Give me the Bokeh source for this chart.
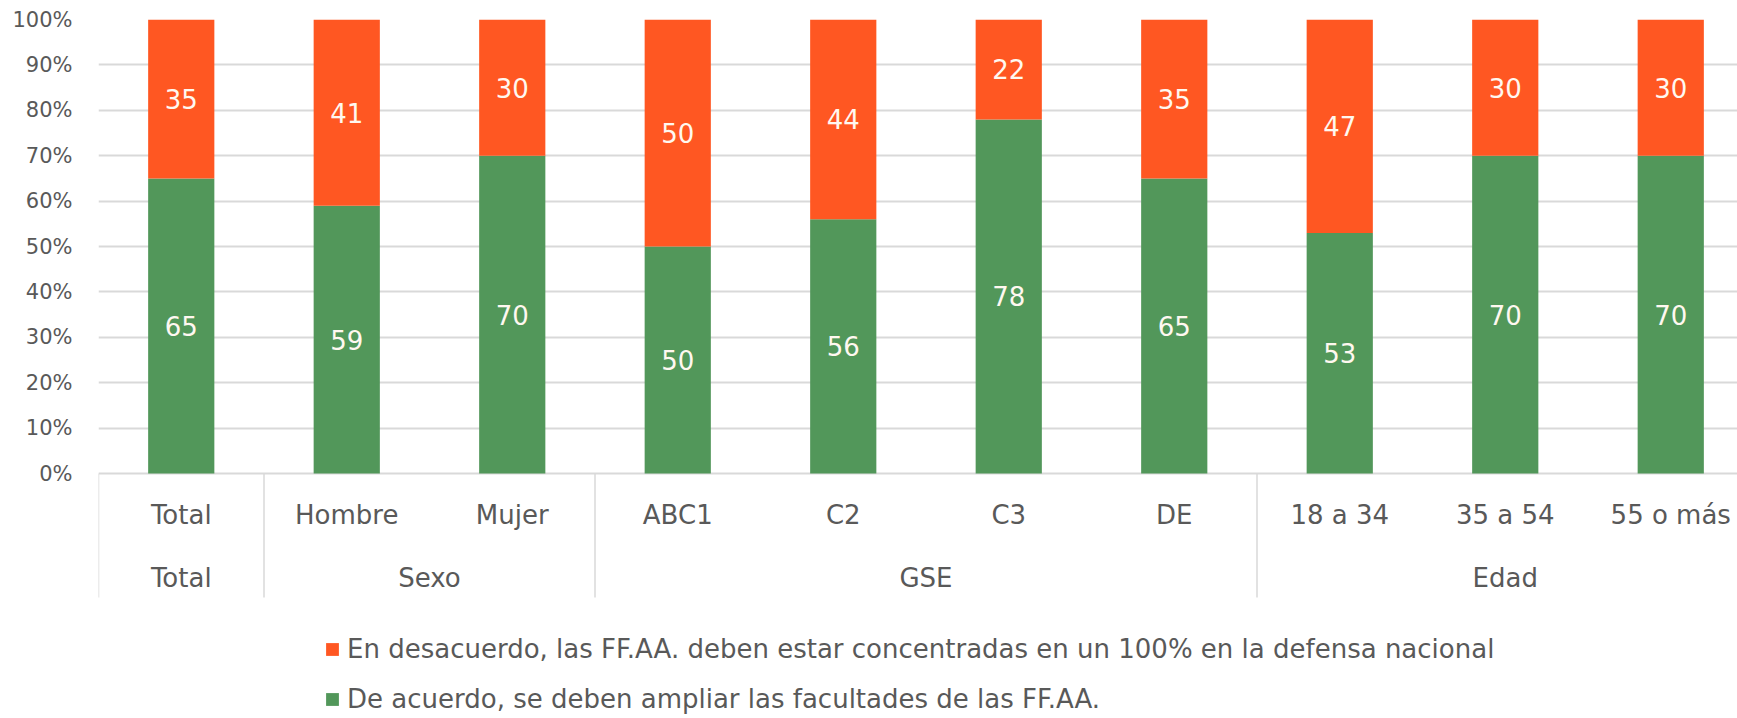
from bokeh.plotting import figure
from bokeh.models import ColumnDataSource, Legend, LegendItem, Range1d
from bokeh.core.properties import value
from bokeh.embed import file_html
from bokeh.resources import INLINE

# ---- data ----
categories = ["Total", "Hombre", "Mujer", "ABC1", "C2", "C3", "DE", "18 a 34", "35 a 54", "55 o más"]
groups = ["Total", "Sexo", "GSE", "Edad"]
group_sizes = [1, 2, 4, 3]
de_acuerdo = [65, 59, 70, 50, 56, 78, 65, 53, 70, 70]
en_desacuerdo = [35, 41, 30, 50, 44, 22, 35, 47, 30, 30]
y_ticks = [0, 10, 20, 30, 40, 50, 60, 70, 80, 90, 100]
y_tick_labels = ["0%", "10%", "20%", "30%", "40%", "50%", "60%", "70%", "80%", "90%", "100%"]
series_names = [
    "En desacuerdo, las FF.AA. deben estar concentradas en un 100% en la defensa nacional",
    "De acuerdo, se deben ampliar las facultades de las FF.AA.",
]

# ---- style ----
FONT = "DejaVu Sans"
ORANGE = "#FF5722"
GREEN = "#52975A"
TEXT = "#595959"
GRID = "#D9D9D9"

W, H = 1737, 718
LEFT, TOP = 98, 19
PX_PER_UNIT = 4.54
CAT_W = 165.5

frame_w = W - LEFT
frame_h = H - TOP
x_end = frame_w / CAT_W
y_start = 100 - frame_h / PX_PER_UNIT

p = figure(width=W, height=H, output_backend="svg", toolbar_location=None,
           x_range=Range1d(0, x_end), y_range=Range1d(y_start, 100),
           x_axis_location=None, min_border_left=LEFT, min_border_right=0,
           min_border_top=TOP, min_border_bottom=0)
p.outline_line_color = None
p.background_fill_color = "white"
p.border_fill_color = "white"

# y axis
p.yaxis.ticker = y_ticks
p.yaxis.major_label_overrides = {t: l for t, l in zip(y_ticks, y_tick_labels)}
p.yaxis.axis_line_color = None
p.yaxis.major_tick_line_color = None
p.yaxis.minor_tick_line_color = None
p.yaxis.major_tick_out = 0
p.yaxis.major_tick_in = 0
p.yaxis.major_label_standoff = 26
p.yaxis.major_label_text_font = FONT
p.yaxis.major_label_text_font_size = "21px"
p.yaxis.major_label_text_color = TEXT
p.xgrid.grid_line_color = None
p.ygrid.grid_line_color = GRID
p.ygrid.grid_line_width = 2

xs = [i + 0.5 for i in range(len(categories))]
src = ColumnDataSource(dict(
    x=xs, cat=categories, green=de_acuerdo, orange=en_desacuerdo,
    green_mid=[g / 2 for g in de_acuerdo],
    orange_mid=[g + o / 2 for g, o in zip(de_acuerdo, en_desacuerdo)],
    green_lbl=[str(v) for v in de_acuerdo],
    orange_lbl=[str(v) for v in en_desacuerdo],
))

r_green, r_orange = p.vbar_stack(["green", "orange"], x="x", width=0.4, source=src,
                                 color=[GREEN, ORANGE], line_color=None)

for ycol, tcol in (("green_mid", "green_lbl"), ("orange_mid", "orange_lbl")):
    p.text(x="x", y=ycol, text=tcol, source=src, text_align="center",
           text_baseline="middle", text_color="#FFF8F0", text_font=value(FONT),
           text_font_size="26px")

# category axis (two levels)
CAT_Y = -9.25
GRP_Y = -23.1
SEP_BOTTOM = -27.3
p.text(x="x", y=CAT_Y, text="cat", source=src, text_align="center",
       text_baseline="middle", text_color=TEXT, text_font=value(FONT),
       text_font_size="26px")

bounds = [0]
for s in group_sizes:
    bounds.append(bounds[-1] + s)
grp_src = ColumnDataSource(dict(
    x=[(a + b) / 2 for a, b in zip(bounds[:-1], bounds[1:])], name=groups))
p.text(x="x", y=GRP_Y, text="name", source=grp_src, text_align="center",
       text_baseline="middle", text_color=TEXT, text_font=value(FONT),
       text_font_size="26px")
sep_src = ColumnDataSource(dict(x0=bounds, y0=[0] * len(bounds),
                                x1=bounds, y1=[SEP_BOTTOM] * len(bounds)))
p.segment(x0="x0", y0="y0", x1="x1", y1="y1", source=sep_src,
          line_color=GRID, line_width=1.5)

legend = Legend(items=[LegendItem(label=series_names[0], renderers=[r_orange]),
                       LegendItem(label=series_names[1], renderers=[r_green])],
                location=(226, 4), orientation="vertical",
                glyph_width=16, glyph_height=16, label_height=30, spacing=20,
                label_standoff=7, padding=0, margin=0,
                label_text_font=FONT, label_text_font_size="26px",
                label_text_color=TEXT, border_line_color=None,
                background_fill_alpha=0)
p.add_layout(legend, "center")

open("out.html", "w").write(file_html(p, INLINE))
